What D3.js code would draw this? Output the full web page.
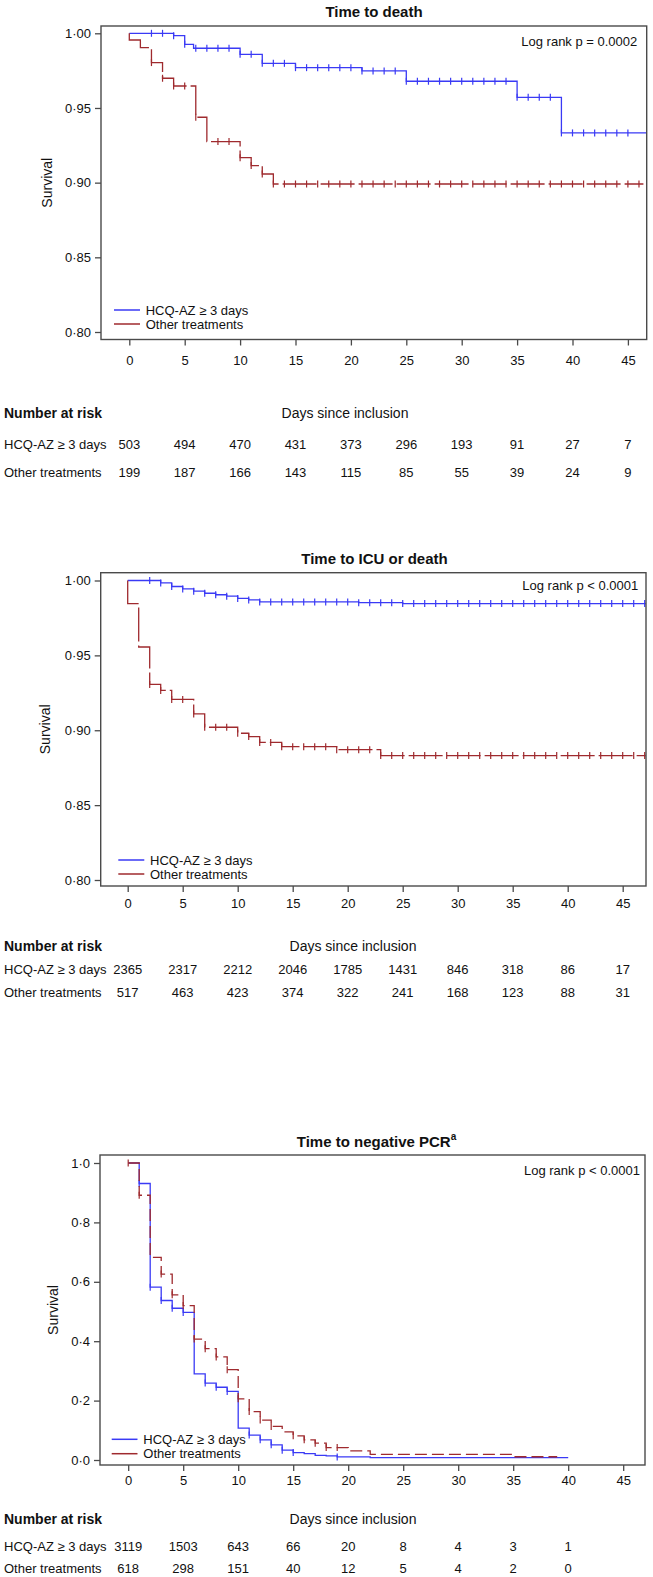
<!DOCTYPE html>
<html><head><meta charset="utf-8">
<script src="https://cdn.jsdelivr.net/npm/d3@7"></script>
<style>body{margin:0;background:#fff;} svg text{font-family:"Liberation Sans",Arial,sans-serif;fill:#111;}</style>
</head><body><svg id="c" width="653" height="1577"></svg>
<script>
// ---------- DATA ----------
const groupNames = ["HCQ-AZ \u2265 3 days", "Other treatments"];
const xTickDays = [0, 5, 10, 15, 20, 25, 30, 35, 40, 45];

// Panel 1: Time to death
const deathTitle = "Time to death";
const deathLogRank = "Log rank p = 0.0002";
const deathYTicks = [0.80, 0.85, 0.90, 0.95, 1.00];
const deathHcqT = [0, 4, 5, 5.8, 10, 12, 15, 21, 25, 35, 39];
const deathHcqS = [1.000, 0.9984, 0.9926, 0.9900, 0.9859, 0.9799, 0.9770, 0.9748, 0.9679, 0.9571, 0.9333];
const deathOthT = [0, 0, 1, 2, 3, 4, 6, 7, 10, 11, 12, 13];
const deathOthS = [1.000, 0.9955, 0.9904, 0.9804, 0.9699, 0.9647, 0.9438, 0.9275, 0.9167, 0.9114, 0.9058, 0.8991];
const deathEnd = [46.7, 46.4];
const deathHcqCens = [2,3,4,5,6,7,8,9,10,11,12,13,14,15,16,17,18,19,20,21,22,23,24,25,26,27,28,29,30,31,32,33,34,35,36,37,38,39,40,41,42,43,44,45];
const deathOthCens = [2,3,4,5,6,8,9,10,11,12,13,14,15,16,17,18,19,20,21,22,23,24,25,26,27,28,29,30,31,32,33,34,35,36,37,38,39,40,41,42,43,44,45,46];
const deathRiskHcq = [503, 494, 470, 431, 373, 296, 193, 91, 27, 7];
const deathRiskOth = [199, 187, 166, 143, 115, 85, 55, 39, 24, 9];

// Panel 2: Time to ICU or death
const icuTitle = "Time to ICU or death";
const icuLogRank = "Log rank p < 0.0001";
const icuYTicks = [0.80, 0.85, 0.90, 0.95, 1.00];
const icuHcqT = [0, 3, 4, 5, 6, 7, 8, 9, 10, 11, 12, 21, 25];
const icuHcqS = [1.000, 0.9984, 0.9960, 0.9944, 0.9929, 0.9915, 0.9905, 0.9895, 0.9880, 0.9870, 0.9857, 0.9852, 0.9846];
const icuOthT = [0, 0, 1, 2, 3, 4, 6, 7, 10, 11, 12, 14, 19, 23];
const icuOthS = [1.000, 0.9846, 0.9556, 0.9306, 0.9266, 0.9206, 0.9109, 0.9020, 0.8980, 0.8958, 0.8919, 0.8890, 0.8870, 0.8831];
const icuEnd = [47.1, 47.1];
const icuHcqCens = [2,3,4,5,6,7,8,9,10,11,12,13,14,15,16,17,18,19,20,21,22,23,24,25,26,27,28,29,30,31,32,33,34,35,36,37,38,39,40,41,42,43,44,45,46,47];
const icuOthCens = [2,3,4,5,6,7,8,9,10,11,12,13,14,15,16,17,18,19,20,21,22,23,24,25,26,27,28,29,30,31,32,33,34,35,36,37,38,39,40,41,42,43,44,45,46,47];
const icuRiskHcq = [2365, 2317, 2212, 2046, 1785, 1431, 846, 318, 86, 17];
const icuRiskOth = [517, 463, 423, 374, 322, 241, 168, 123, 88, 31];

// Panel 3: Time to negative PCR
const pcrTitle = "Time to negative PCR";
const pcrSup = "a";
const pcrLogRank = "Log rank p < 0.0001";
const pcrYTicks = [0.0, 0.2, 0.4, 0.6, 0.8, 1.0];
const pcrHcqT = [0, 1, 2, 3, 4, 5, 6, 7, 8, 9, 10, 11, 12, 13, 14, 15, 16, 17, 18, 19, 22];
const pcrHcqS = [1.000, 0.931, 0.582, 0.537, 0.511, 0.497, 0.290, 0.259, 0.245, 0.231, 0.107, 0.084, 0.068, 0.051, 0.033, 0.025, 0.0215, 0.0158, 0.0136, 0.0102, 0.0079];
const pcrOthT = [0, 1, 2, 3, 4, 5, 6, 7, 8, 9, 10, 11, 12, 13, 14, 15, 16, 17, 18, 20, 22, 35];
const pcrOthS = [1.000, 0.8915, 0.6825, 0.626, 0.556, 0.520, 0.407, 0.375, 0.347, 0.304, 0.206, 0.163, 0.1345, 0.113, 0.095, 0.0814, 0.0678, 0.0565, 0.0418, 0.0305, 0.0192, 0.011];
const pcrEnd = [40, 39];
const pcrHcqCens = [1, 2, 3, 4, 5, 7, 8, 9, 11, 12, 13, 14, 15, 19];
const pcrOthCens = [0, 1, 3, 4, 5, 6, 7, 8, 9, 10, 11, 12, 13, 15, 16, 17, 18, 19];
const pcrRiskHcq = [3119, 1503, 643, 66, 20, 8, 4, 3, 1];
const pcrRiskOth = [618, 298, 151, 40, 12, 5, 4, 2, 0];

// ---------- DRAW ----------
const BLUE = "#3a3af5", RED = "#9f2a2e", FRAME = "#4a4a4a";
const svg = d3.select("#c");

function survAt(T, S, t) {
  let v = S[0];
  for (let i = 0; i < T.length; i++) if (T[i] <= t) v = S[i];
  return v;
}

function drawPanel(c) {
  const g = svg.append("g");
  const x = d3.scaleLinear().domain([0, 45]).range([c.x0, c.x0 + 45 * c.ppd]);
  const y = d3.scaleLinear().domain(c.yDomain).range(c.yRange);
  const fmt = v => d3.format(c.yFmt)(v).replace(".", "\u00B7");

  // title
  const tt = g.append("text").attr("x", c.titleX).attr("y", c.titleY).attr("dy", "0.35em")
    .attr("text-anchor", "middle").style("font-weight", "bold").style("font-size", "15px").text(c.title);
  if (c.sup) tt.append("tspan").attr("dy", "-7").style("font-size", "10px").text(c.sup);

  // y axis
  const ya = g.append("g").attr("transform", `translate(${c.frame.l},0)`)
    .call(d3.axisLeft(y).tickValues(c.yTicks).tickFormat(fmt).tickSize(6).tickPadding(4).tickSizeOuter(0));
  ya.select(".domain").remove();
  ya.selectAll("line").attr("stroke", FRAME).attr("stroke-width", 1.3);
  ya.selectAll("text").style("font-size", "13px").attr("fill", "#111");

  // x axis
  const xa = g.append("g").attr("transform", `translate(0,${c.frame.b})`)
    .call(d3.axisBottom(x).tickValues(xTickDays).tickFormat(d3.format("d")).tickSize(6).tickSizeOuter(0));
  xa.select(".domain").remove();
  xa.selectAll("line").attr("stroke", FRAME).attr("stroke-width", 1.3);
  xa.selectAll("text").style("font-size", "13px").attr("fill", "#111")
    .attr("y", c.tickLabY - c.frame.b).attr("dy", "0.35em");

  // survival label
  g.append("text").attr("transform", `translate(${c.survX},${(c.frame.t + c.frame.b) / 2}) rotate(-90)`)
    .attr("text-anchor", "middle").attr("dy", "0.35em").style("font-size", "14px").text("Survival");

  // curves
  const line = d3.line().x(d => x(d[0])).y(d => y(d[1])).curve(d3.curveStepAfter);
  const series = [
    {T: c.hcqT, S: c.hcqS, end: c.end[0], cens: c.hcqCens, color: BLUE, dash: null},
    {T: c.othT, S: c.othS, end: c.end[1], cens: c.othCens, color: RED, dash: c.dash}
  ];
  series.forEach(s => {
    const pts = s.T.map((t, i) => [t, s.S[i]]);
    pts.push([s.end, s.S[s.S.length - 1]]);
    g.append("path").attr("d", line(pts)).attr("fill", "none").attr("stroke", s.color)
      .attr("stroke-width", 1.3).attr("stroke-dasharray", s.dash);
    g.selectAll(null).data(s.cens).enter().append("line")
      .attr("x1", d => x(d)).attr("x2", d => x(d))
      .attr("y1", d => y(survAt(s.T, s.S, d)) - 3.5).attr("y2", d => y(survAt(s.T, s.S, d)) + 3.5)
      .attr("stroke", s.color).attr("stroke-width", 1.2);
  });

  // frame
  g.append("rect").attr("x", c.frame.l).attr("y", c.frame.t)
    .attr("width", c.frame.r - c.frame.l).attr("height", c.frame.b - c.frame.t)
    .attr("fill", "none").attr("stroke", FRAME).attr("stroke-width", 1.4);

  // log rank
  g.append("text").attr("x", c.logX).attr("y", c.logY).attr("dy", "0.35em").attr("text-anchor", "end")
    .style("font-size", "13px").text(c.logRank);

  // legend
  [BLUE, RED].forEach((col, i) => {
    const ly = i === 0 ? c.leg.y1 : c.leg.y2;
    g.append("line").attr("x1", c.leg.x1).attr("x2", c.leg.x2).attr("y1", ly).attr("y2", ly)
      .attr("stroke", col).attr("stroke-width", 1.5);
    g.append("text").attr("x", c.leg.tx).attr("y", ly).attr("dy", "0.35em")
      .style("font-size", "13px").text(groupNames[i]);
  });

  // number at risk table
  g.append("text").attr("x", 4).attr("y", c.narY).attr("dy", "0.35em")
    .style("font-size", "14px").style("font-weight", "bold").text("Number at risk");
  g.append("text").attr("x", c.darX).attr("y", c.narY).attr("dy", "0.35em").attr("text-anchor", "middle")
    .style("font-size", "14px").text("Days since inclusion");
  [c.riskHcq, c.riskOth].forEach((arr, i) => {
    const ry = i === 0 ? c.row1 : c.row2;
    g.append("text").attr("x", 4).attr("y", ry).attr("dy", "0.35em").style("font-size", "13px").text(groupNames[i]);
    g.selectAll(null).data(arr).enter().append("text")
      .attr("x", (d, j) => x(xTickDays[j])).attr("y", ry).attr("dy", "0.35em")
      .attr("text-anchor", "middle").style("font-size", "13px").text(d => d);
  });
}

drawPanel({
  title: deathTitle, titleX: 374, titleY: 11.7, logRank: deathLogRank, logX: 637.3, logY: 41.7,
  frame: {l: 101, t: 26, r: 646.7, b: 339.5}, x0: 129.3, ppd: 11.08,
  yDomain: [0.80, 1.00], yRange: [332, 33.3], yTicks: deathYTicks, yFmt: ".2f",
  hcqT: deathHcqT, hcqS: deathHcqS, othT: deathOthT, othS: deathOthS, end: deathEnd,
  hcqCens: deathHcqCens, othCens: deathOthCens, dash: "34,4",
  survX: 46.7, tickLabY: 360,
  leg: {x1: 114, x2: 140, tx: 145.7, y1: 310, y2: 324},
  narY: 413, darX: 345, row1: 444.5, row2: 472.5, riskHcq: deathRiskHcq, riskOth: deathRiskOth
});

drawPanel({
  title: icuTitle, titleX: 374.5, titleY: 558.3, logRank: icuLogRank, logX: 638.3, logY: 585,
  frame: {l: 100.7, t: 572.7, r: 646, b: 886}, x0: 127.7, ppd: 11.0,
  yDomain: [0.80, 1.00], yRange: [880, 580.5], yTicks: icuYTicks, yFmt: ".2f",
  hcqT: icuHcqT, hcqS: icuHcqS, othT: icuOthT, othS: icuOthS, end: icuEnd,
  hcqCens: icuHcqCens, othCens: icuOthCens, dash: "34,4",
  survX: 45, tickLabY: 903.3,
  leg: {x1: 118.3, x2: 144.3, tx: 150, y1: 860, y2: 874},
  narY: 946, darX: 353, row1: 969, row2: 992, riskHcq: icuRiskHcq, riskOth: icuRiskOth
});

drawPanel({
  title: pcrTitle, sup: pcrSup, titleX: 376.5, titleY: 1141.7, logRank: pcrLogRank, logX: 640, logY: 1170,
  frame: {l: 100, t: 1155, r: 645, b: 1465}, x0: 128.2, ppd: 11.0,
  yDomain: [0, 1], yRange: [1460, 1163], yTicks: pcrYTicks, yFmt: ".1f",
  hcqT: pcrHcqT, hcqS: pcrHcqS, othT: pcrOthT, othS: pcrOthS, end: pcrEnd,
  hcqCens: pcrHcqCens, othCens: pcrOthCens, dash: "12,5",
  survX: 53.3, tickLabY: 1480.7,
  leg: {x1: 111.7, x2: 137.5, tx: 143.3, y1: 1439.3, y2: 1453.7},
  narY: 1519.3, darX: 353, row1: 1546.7, row2: 1568.3, riskHcq: pcrRiskHcq, riskOth: pcrRiskOth
});
</script>
</body></html>
